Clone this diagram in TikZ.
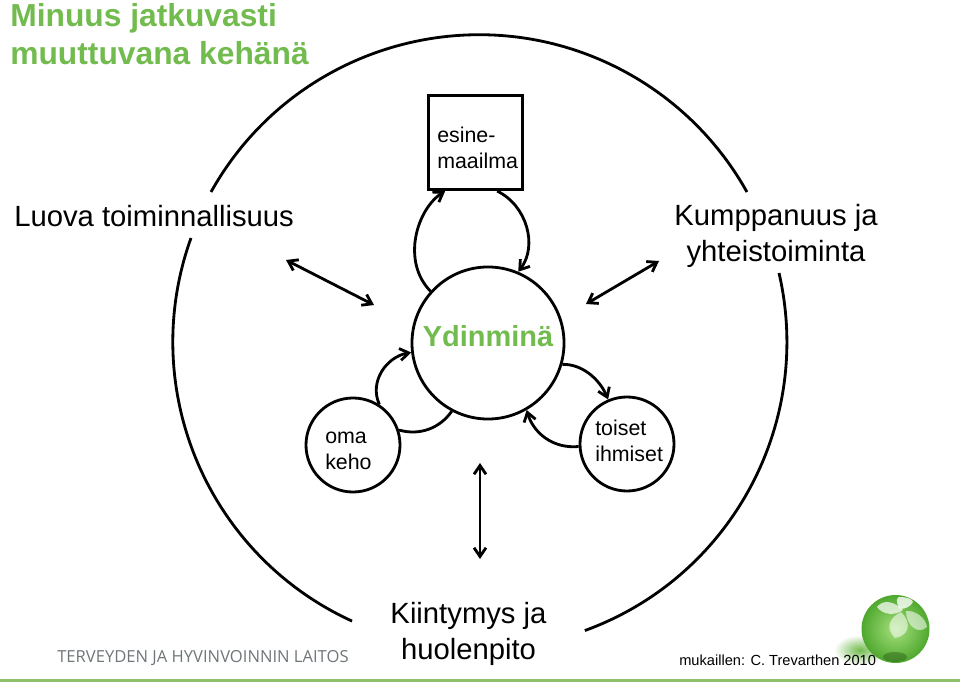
\documentclass[tikz,border=0pt]{standalone}
\usepackage{fontspec}
\usetikzlibrary{arrows.meta}
\setmainfont{Liberation Sans}
\newfontfamily\logofont{Open Sans}
\definecolor{leaf}{HTML}{72BB4E}
\definecolor{leafline}{HTML}{8FC06A}
\definecolor{logogray}{HTML}{6F7678}
\definecolor{ballin}{HTML}{A6E07E}
\definecolor{ballout}{HTML}{4FA82E}
\tikzset{
  >={Straight Barb[length = 2.2mm, width = 3mm]},
  txt/.style = {inner sep = 0pt, align = left},
  ring/.style = {draw, line width = 2pt, circle, inner sep = 0pt, minimum size = #1},
  curve/.style = {line width = 2pt},
  link/.style = {->, line width = 2pt},
  dbl/.style = {<->, line width = 2pt},
}
\begin{document}
\begin{tikzpicture}[x = 0.025cm, y = -0.025cm]
\useasboundingbox (0,0) rectangle (960,682);
% green shadow under ball
\shade[inner color = leaf, outer color = white] (860,650) ellipse [x radius = 26, y radius = 15];
% outer ring
\draw[curve] (211,192) arc [start angle = 209.2, end angle = 330.8, radius = 307];
\draw[curve] (779,273) arc [start angle = -13, end angle = 70, radius = 307];
\draw[curve] (191,238) arc [start angle = 199.8, end angle = 114.6, radius = 307];
% core and satellites
\node[ring = 3.8cm] at (488,343) (core) {};
\node[ring = 2.35cm] at (353,445) (body) {};
\node[ring = 2.35cm] at (627,444) (others) {};
\node[draw, line width = 2.2pt, minimum size = 2.35cm, inner sep = 0pt] at (475.5,142.5) (box) {};
\node[txt, text = leaf, anchor = center, font = \bfseries\fontsize{20.6}{24}\selectfont] at (488,336) (ydin) {Ydinminä};
\node[txt, anchor = west, font = \fontsize{15.2}{18.5}\selectfont] at (437,148) (boxtxt) {esine-\\maailma};
\node[txt, anchor = west, font = \fontsize{15.2}{18.5}\selectfont] at (325,451) (bodytxt) {oma\\keho};
\node[txt, anchor = west, font = \fontsize{15.2}{18.5}\selectfont] at (595,441) (othertxt) {toiset\\ihmiset};
% loops
\draw[link] (box.-66) .. controls (527,205.5) and (538,246) .. (core.67);
\draw[link] (core.138) .. controls (401,261) and (417,209) .. (box.-122);
\draw[link] (body.57) .. controls (369,382) and (386,357) .. (core.187);
\draw[curve] (body.18) .. controls (420,436) and (440,428) .. (core.242);
\draw[link] (core.-16) .. controls (583,364) and (600,380) .. (others.113);
\draw[link] (others.183) .. controls (552,449) and (533,432) .. (core.-60);
% double arrows
\coordinate (l1) at (286,260);
\coordinate (l2) at (374,305);
\coordinate (r1) at (659,261);
\coordinate (r2) at (586,304);
\coordinate (d1) at (480,463);
\coordinate (d2) at (480,559);
\draw[dbl] (l1) -- (l2);
\draw[dbl] (r1) -- (r2);
\draw[dbl] (d1) -- (d2);
% labels
\node[txt, anchor = north west, text = leaf, font = \bfseries\fontsize{22.6}{27}\selectfont] at (10,3) (title) {Minuus jatkuvasti\\muuttuvana kehänä};
\node[txt, anchor = west, font = \fontsize{20.8}{24}\selectfont] at (14,216) (luova) {Luova toiminnallisuus};
\node[txt, align = center, font = \fontsize{20.8}{25.3}\selectfont] at (776,236) (kump) {Kumppanuus ja\\yhteistoiminta};
\node[txt, align = center, font = \fontsize{20.8}{25.6}\selectfont] at (468.5,634) (kiin) {Kiintymys ja\\huolenpito};
\node[txt, anchor = west, text = logogray, font = \logofont\fontsize{11.8}{13}\selectfont] at (57,658) (logo) {TERVEYDEN JA HYVINVOINNIN LAITOS};
% green ball
\shade[inner color = ballin, outer color = ballout] (895.5,629) circle [radius = 34];
\fill[ballout!60!black, opacity = 0.5] (895,657) ellipse [x radius = 12, y radius = 5];
\fill[white, opacity = 0.7] (903,610) .. controls (893,600) and (882,600) .. (877,607) .. controls (883,615) and (895,616) .. (903,610);
\fill[white, opacity = 0.55] (901,612) .. controls (889,618) and (885,628) .. (895,638) .. controls (908,636) and (913,624) .. (901,612);
\fill[white, opacity = 0.55] (906,611) .. controls (915,610) and (926,618) .. (927,627) .. controls (917,636) and (906,624) .. (906,611);
\fill[white, opacity = 0.8] (900,609) .. controls (895,602) and (897,597) .. (899,597) .. controls (905,597) and (912,598) .. (913,602) .. controls (911,606) and (906,609) .. (900,609);
\node[txt, anchor = west, font = \fontsize{10.4}{13}\selectfont] at (679,660) (muk) {mukaillen: C. Trevarthen 2010};
% bottom line
\fill[leafline] (0,678.5) rectangle (960,682);
\end{tikzpicture}
\end{document}
